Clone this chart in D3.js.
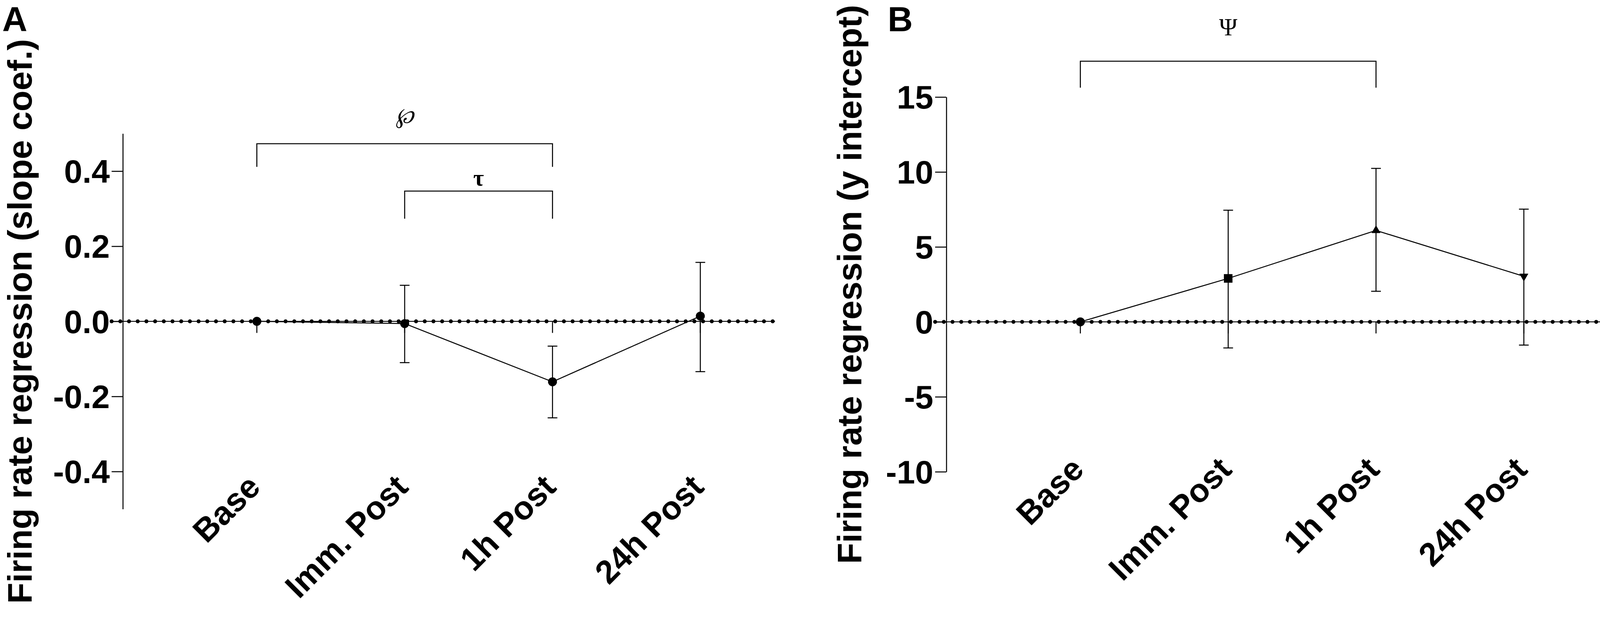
<!DOCTYPE html>
<html>
<head>
<meta charset="utf-8">
<script src="https://cdn.jsdelivr.net/npm/d3@7"></script>
<style>
  html, body { margin: 0; padding: 0; background: #fff; overflow: hidden; }
  svg { display: block; position: absolute; left: 0; top: 0; width: 100vw; height: 100vh; }
</style>
</head>
<body>
<svg id="chart" viewBox="0 0 4286 1626" preserveAspectRatio="xMinYMin meet"></svg>
<script>
// values
const categories = ["Base", "Imm. Post", "1h Post", "24h Post"];

// panel A: slope coefficient, mean and error bar ends
const slopeMean  = [0.0, -0.006, -0.161, 0.014];
const slopeUpper = [0.0,  0.096, -0.066, 0.157];
const slopeLower = [0.0, -0.110, -0.257, -0.134];
const slopeTicks = [-0.4, -0.2, 0.0, 0.2, 0.4];
const slopeTickLabels = ["-0.4", "-0.2", "0.0", "0.2", "0.4"];

// panel B: y intercept, mean and error bar ends
const interceptMean  = [0.0, 2.90, 6.10, 3.04];
const interceptUpper = [0.0, 7.45, 10.24, 7.52];
const interceptLower = [0.0, -1.74, 2.04, -1.55];
const interceptTicks = [-10, -5, 0, 5, 10, 15];
const interceptTickLabels = ["-10", "-5", "0", "5", "10", "15"];

// significance brackets
const slopeBrackets = [
  { from: "Base", to: "1h Post", label: "\u2118" },
  { from: "Imm. Post", to: "1h Post", label: "\u03C4" }
];
const interceptBrackets = [
  { from: "Base", to: "1h Post", label: "\u03A8" }
];

const svg = d3.select("#chart");
const sans = "'Liberation Sans', Arial, Helvetica, sans-serif";
const serif = "'Liberation Serif', 'Times New Roman', 'DejaVu Serif', serif";
const lw = 2.7;

function markerPath(kind) {
  var sym = d3.symbolCircle, size = Math.PI * 12 * 12;
  if (kind == "square") { sym = d3.symbolSquare; size = 23 * 23; }
  if (kind == "triangle" || kind == "triangleDown") { sym = d3.symbolTriangle; size = 250; }
  return d3.symbol().type(sym).size(size)();
}

function drawPanel(p) {
  var g = svg.append("g");

  var x = d3.scalePoint().domain(categories).range(p.xRange);
  var y = d3.scaleLinear().domain(p.yDomain).range(p.yRange);

  // y axis
  var yAxis = d3.axisLeft(y)
    .tickValues(p.ticks)
    .tickFormat((d, i) => p.tickLabels[i])
    .tickSize(30)
    .tickSizeOuter(0)
    .tickPadding(5);
  var ag = g.append("g")
    .attr("transform", "translate(" + p.axisX + ",0)")
    .call(yAxis);
  ag.select(".domain").attr("stroke", "#000").attr("stroke-width", lw);
  ag.selectAll(".tick line").attr("stroke", "#000").attr("stroke-width", lw);
  ag.selectAll(".tick text")
    .attr("fill", "#000")
    .attr("dy", "0.35em")
    .style("font-family", sans)
    .style("font-size", "88px")
    .style("font-weight", "bold");

  // zero line: thin solid line with round dots on it
  var y0 = y(0);
  g.append("line")
    .attr("x1", p.axisX - 30).attr("x2", p.zeroEnd)
    .attr("y1", y0).attr("y2", y0)
    .attr("stroke", "#000").attr("stroke-width", 2.5);
  g.append("line")
    .attr("x1", p.axisX - 30).attr("x2", p.zeroEnd)
    .attr("y1", y0).attr("y2", y0)
    .attr("stroke", "#000").attr("stroke-width", 10.5)
    .attr("stroke-linecap", "round")
    .attr("stroke-dasharray", "0 23.3");

  // x ticks hanging under the zero line
  g.selectAll(".xtick").data(categories).enter().append("line")
    .attr("x1", d => x(d)).attr("x2", d => x(d))
    .attr("y1", y0).attr("y2", y0 + 31)
    .attr("stroke", "#000").attr("stroke-width", lw);

  // category labels
  g.selectAll(".xlab").data(categories).enter().append("text")
    .attr("transform", d => "translate(" + (x(d) + 14) + "," + p.labelY + ") rotate(-45)")
    .attr("text-anchor", "end")
    .style("font-family", sans)
    .style("font-size", "88px")
    .style("font-weight", "bold")
    .text(d => d);

  // error bars
  var rows = categories.map((c, i) => ({ c: c, m: p.mean[i], hi: p.upper[i], lo: p.lower[i], shape: p.shapes[i] }));
  var eb = rows.filter(d => d.hi != d.lo);
  g.selectAll(".err").data(eb).enter().append("line")
    .attr("x1", d => x(d.c)).attr("x2", d => x(d.c))
    .attr("y1", d => y(d.hi)).attr("y2", d => y(d.lo))
    .attr("stroke", "#000").attr("stroke-width", lw);
  ["hi", "lo"].forEach(function(k) {
    g.selectAll(".cap" + k).data(eb).enter().append("line")
      .attr("x1", d => x(d.c) - 13).attr("x2", d => x(d.c) + 13)
      .attr("y1", d => y(d[k])).attr("y2", d => y(d[k]))
      .attr("stroke", "#000").attr("stroke-width", lw);
  });

  // mean line
  var line = d3.line().x(d => x(d.c)).y(d => y(d.m));
  g.append("path").datum(rows)
    .attr("d", line)
    .attr("fill", "none")
    .attr("stroke", "#000").attr("stroke-width", lw);

  // markers
  g.selectAll(".mk").data(rows).enter().append("path")
    .attr("d", d => markerPath(d.shape))
    .attr("transform", d => "translate(" + x(d.c) + "," + y(d.m) + ")" + (d.shape == "triangleDown" ? " rotate(180)" : ""))
    .attr("fill", "#000");

  // significance brackets
  p.brackets.forEach(function(b, i) {
    var lv = p.bracketLevels[i];
    var x1 = x(b.from), x2 = x(b.to);
    g.append("path")
      .attr("d", d3.line()([[x1, lv.bottom], [x1, lv.top], [x2, lv.top], [x2, lv.bottom]]))
      .attr("fill", "none")
      .attr("stroke", "#000").attr("stroke-width", lw);
    g.append("text")
      .attr("x", (x1 + x2) / 2 + (lv.dx || 0))
      .attr("y", lv.textY)
      .attr("text-anchor", "middle")
      .style("font-family", serif)
      .style("font-size", lv.size + "px")
      .style("font-weight", lv.weight || "normal")
      .style("font-style", lv.italic ? "italic" : "normal")
      .text(b.label);
  });

  // axis title
  g.append("text")
    .attr("transform", "translate(" + p.titleX + "," + (p.yRange[0] + p.yRange[1]) / 2 + ") rotate(-90)")
    .attr("text-anchor", "middle")
    .style("font-family", sans)
    .style("font-size", "92px")
    .style("font-weight", "bold")
    .text(p.title);

  // panel letter
  g.append("text")
    .attr("x", p.letterX).attr("y", 84)
    .style("font-family", sans)
    .style("font-size", "93px")
    .style("font-weight", "bold")
    .text(p.letter);
}

drawPanel({
  letter: "A", letterX: 6,
  title: "Firing rate regression (slope coef.)", titleX: 85,
  axisX: 329, xRange: [688, 1876], zeroEnd: 2076,
  yDomain: [-0.5, 0.5], yRange: [1364, 358],
  ticks: slopeTicks, tickLabels: slopeTickLabels,
  mean: slopeMean, upper: slopeUpper, lower: slopeLower,
  shapes: ["circle", "circle", "circle", "circle"],
  labelY: 1310,
  brackets: slopeBrackets,
  bracketLevels: [
    { top: 385, bottom: 447, textY: 330, size: 58, italic: true },
    { top: 512, bottom: 586, textY: 497, size: 62, weight: "bold" }
  ]
});

drawPanel({
  letter: "B", letterX: 2378,
  title: "Firing rate regression (y intercept)", titleX: 2307,
  axisX: 2535, xRange: [2894, 4082], zeroEnd: 4286,
  yDomain: [-10, 15], yRange: [1264, 260],
  ticks: interceptTicks, tickLabels: interceptTickLabels,
  mean: interceptMean, upper: interceptUpper, lower: interceptLower,
  shapes: ["circle", "square", "triangle", "triangleDown"],
  labelY: 1263,
  brackets: interceptBrackets,
  bracketLevels: [
    { top: 164, bottom: 235, textY: 95, size: 66 }
  ]
});
</script>
</body>
</html>
